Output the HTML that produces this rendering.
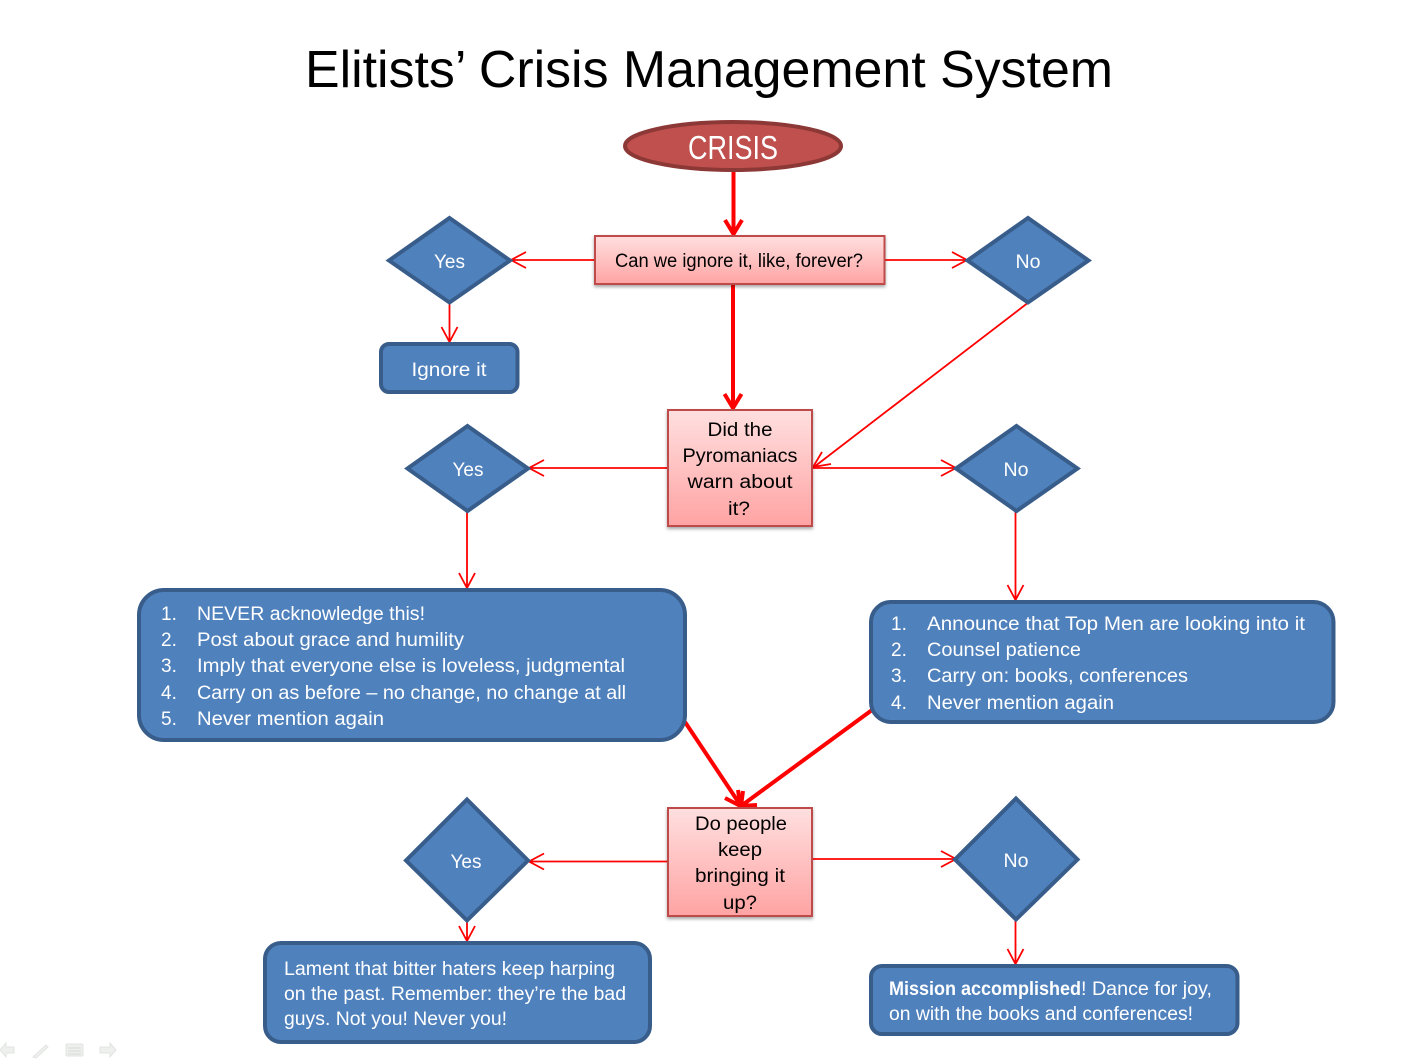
<!DOCTYPE html>
<html><head><meta charset="utf-8"><style>
html,body{margin:0;padding:0;background:#fff}
svg{display:block}
text{font-family:"Liberation Sans",sans-serif}
.w{fill:#fff;font-size:19px}
.wm{fill:#fff;font-size:19px;text-anchor:middle}
.k{fill:#000;font-size:19px;text-anchor:middle}
.b{fill:#4f81bd;stroke:#385d8a;stroke-width:4}
.p{fill:url(#pk);stroke:#be4b48;stroke-width:2;filter:url(#sh)}
.t{stroke:#f00;stroke-width:1.8;fill:none}
.h{stroke:#f00;stroke-width:4;fill:none}
</style></head><body>
<svg width="1420" height="1061" viewBox="0 0 1420 1061" xmlns="http://www.w3.org/2000/svg">
<defs>
<linearGradient id="pk" x1="0" y1="0" x2="0" y2="1"><stop offset="0" stop-color="#ffdfdf"/><stop offset="1" stop-color="#ffa3a3"/></linearGradient>
<filter id="sh" x="-10%" y="-10%" width="120%" height="125%"><feDropShadow dx="0" dy="2" stdDeviation="1.5" flood-color="#000" flood-opacity=".35"/></filter>
</defs>
<text x="305" y="87" font-size="52" fill="#000" textLength="808" lengthAdjust="spacingAndGlyphs">Elitists’ Crisis Management System</text>

<!-- thick connectors -->
<path class="h" d="M733.500 170V233M725 220L733.500 234L742 220"/>
<path class="h" d="M733 284V407M724.500 394L733 408L741.500 394"/>
<path class="h" d="M685 722L741 806M725 798L740.500 806L738 790"/>
<path class="h" d="M872 710L741 806M743 791L741 806L757 805"/>

<!-- thin connectors -->
<path class="t" d="M595 260H512M526 252L511 260L526 268"/>
<path class="t" d="M885 260H967M952 252L967 260L952 268"/>
<path class="t" d="M449.500 302V342M441.500 327L449.500 342L457.500 327"/>
<path class="t" d="M1029 302L814 467M822 452L813 467L831 464"/>
<path class="t" d="M668 468H530M544 460L529 468L544 476"/>
<path class="t" d="M812 468H955M941 460L956 468L941 476"/>
<path class="t" d="M467 511V588M459 573L467 588L475 573"/>
<path class="t" d="M1015.500 511V600M1007.500 585L1015.500 600L1023.500 585"/>
<path class="t" d="M668 861.500H530M544 853.500L529 861.500L544 869.500"/>
<path class="t" d="M812 859H955M941 851L956 859L941 867"/>
<path class="t" d="M467 920V941M459 926L467 941L475 926"/>
<path class="t" d="M1015.500 920V964M1007.500 949L1015.500 964L1023.500 949"/>

<!-- crisis -->
<ellipse cx="733" cy="146" rx="108" ry="24" fill="#c0504d" stroke="#8c3836" stroke-width="4"/>
<text x="733" y="159" font-size="33" fill="#fff" text-anchor="middle" textLength="90" lengthAdjust="spacingAndGlyphs">CRISIS</text>

<!-- pink boxes -->
<rect class="p" x="595" y="236" width="289.500" height="48"/>
<text class="k" x="739" y="267" textLength="248" lengthAdjust="spacingAndGlyphs">Can we ignore it, like, forever?</text>
<rect class="p" x="668" y="410" width="144" height="116"/>
<text class="k" x="740" y="436" textLength="65" lengthAdjust="spacingAndGlyphs">Did the</text>
<text class="k" x="740" y="462" textLength="115" lengthAdjust="spacingAndGlyphs">Pyromaniacs</text>
<text class="k" x="740" y="488" textLength="105" lengthAdjust="spacingAndGlyphs">warn about</text>
<text class="k" x="739" y="515" textLength="22" lengthAdjust="spacingAndGlyphs">it?</text>
<rect class="p" x="668" y="808" width="144" height="108"/>
<text class="k" x="741" y="830" textLength="92" lengthAdjust="spacingAndGlyphs">Do people</text>
<text class="k" x="740" y="856" textLength="44" lengthAdjust="spacingAndGlyphs">keep</text>
<text class="k" x="740" y="882" textLength="90" lengthAdjust="spacingAndGlyphs">bringing it</text>
<text class="k" x="740" y="909" textLength="34" lengthAdjust="spacingAndGlyphs">up?</text>

<!-- diamonds -->
<polygon class="b" points="449.500,218 510,260.500 449.500,302.500 389,260.500"/>
<text class="wm" x="449.500" y="268" textLength="31" lengthAdjust="spacingAndGlyphs">Yes</text>
<polygon class="b" points="1028,218 1088.500,260.500 1028,302.500 967.500,260.500"/>
<text class="wm" x="1028" y="268" textLength="25" lengthAdjust="spacingAndGlyphs">No</text>
<polygon class="b" points="467.500,426 528,468.500 467.500,511 407.500,468.500"/>
<text class="wm" x="468" y="476" textLength="31" lengthAdjust="spacingAndGlyphs">Yes</text>
<polygon class="b" points="1016.500,426 1077.500,468.500 1016.500,511 956,468.500"/>
<text class="wm" x="1016" y="476" textLength="25" lengthAdjust="spacingAndGlyphs">No</text>
<polygon class="b" points="467,799.500 528,860.500 467,920.500 406,860.500"/>
<text class="wm" x="466" y="868" textLength="31" lengthAdjust="spacingAndGlyphs">Yes</text>
<polygon class="b" points="1016,798.500 1077.500,859.500 1016,919.500 955,859.500"/>
<text class="wm" x="1016" y="867" textLength="25" lengthAdjust="spacingAndGlyphs">No</text>

<!-- blue boxes -->
<rect class="b" x="381" y="344" width="136.500" height="48" rx="8"/>
<text class="wm" x="449" y="376" textLength="75" lengthAdjust="spacingAndGlyphs">Ignore it</text>

<rect class="b" x="139" y="590" width="546" height="150" rx="25"/>
<text class="w" x="161" y="620">1.</text><text class="w" x="197" y="620" textLength="228" lengthAdjust="spacingAndGlyphs">NEVER acknowledge this!</text>
<text class="w" x="161" y="646">2.</text><text class="w" x="197" y="646" textLength="267" lengthAdjust="spacingAndGlyphs">Post about grace and humility</text>
<text class="w" x="161" y="672">3.</text><text class="w" x="197" y="672" textLength="428" lengthAdjust="spacingAndGlyphs">Imply that everyone else is loveless, judgmental</text>
<text class="w" x="161" y="699">4.</text><text class="w" x="197" y="699" textLength="429" lengthAdjust="spacingAndGlyphs">Carry on as before – no change, no change at all</text>
<text class="w" x="161" y="725">5.</text><text class="w" x="197" y="725" textLength="187" lengthAdjust="spacingAndGlyphs">Never mention again</text>

<rect class="b" x="871" y="602" width="462.500" height="120" rx="20"/>
<text class="w" x="891" y="630">1.</text><text class="w" x="927" y="630" textLength="378" lengthAdjust="spacingAndGlyphs">Announce that Top Men are looking into it</text>
<text class="w" x="891" y="656">2.</text><text class="w" x="927" y="656" textLength="154" lengthAdjust="spacingAndGlyphs">Counsel patience</text>
<text class="w" x="891" y="682">3.</text><text class="w" x="927" y="682" textLength="261" lengthAdjust="spacingAndGlyphs">Carry on: books, conferences</text>
<text class="w" x="891" y="709">4.</text><text class="w" x="927" y="709" textLength="187" lengthAdjust="spacingAndGlyphs">Never mention again</text>

<rect class="b" x="265" y="943" width="385" height="99" rx="16"/>
<text class="w" x="284" y="975" textLength="331" lengthAdjust="spacingAndGlyphs">Lament that bitter haters keep harping</text>
<text class="w" x="284" y="1000" textLength="342" lengthAdjust="spacingAndGlyphs">on the past. Remember: they’re the bad</text>
<text class="w" x="284" y="1025" textLength="223" lengthAdjust="spacingAndGlyphs">guys. Not you! Never you!</text>

<rect class="b" x="871" y="966" width="366.500" height="68" rx="11"/>
<text class="w" x="889" y="995" font-weight="bold" textLength="192" lengthAdjust="spacingAndGlyphs">Mission accomplished</text>
<text class="w" x="1081" y="995" textLength="131" lengthAdjust="spacingAndGlyphs">! Dance for joy,</text>
<text class="w" x="889" y="1020" textLength="304" lengthAdjust="spacingAndGlyphs">on with the books and conferences!</text>

<!-- faint slideshow controls -->
<g fill="#eef0ee" stroke="#e2e4e2" stroke-width="1">
<polygon points="0,1050 6,1043 6,1047 14,1047 14,1053 6,1053 6,1057"/>
<polygon points="33,1057 46,1045 48,1047 36,1058"/>
<rect x="66" y="1044" width="17" height="12" rx="1"/>
<path d="M68 1048H81M68 1051H81M68 1054H81" fill="none" stroke="#d8dad8"/>
<polygon points="116,1050 110,1043 110,1047 100,1047 100,1053 110,1053 110,1057"/>
</g>
</svg>
</body></html>
